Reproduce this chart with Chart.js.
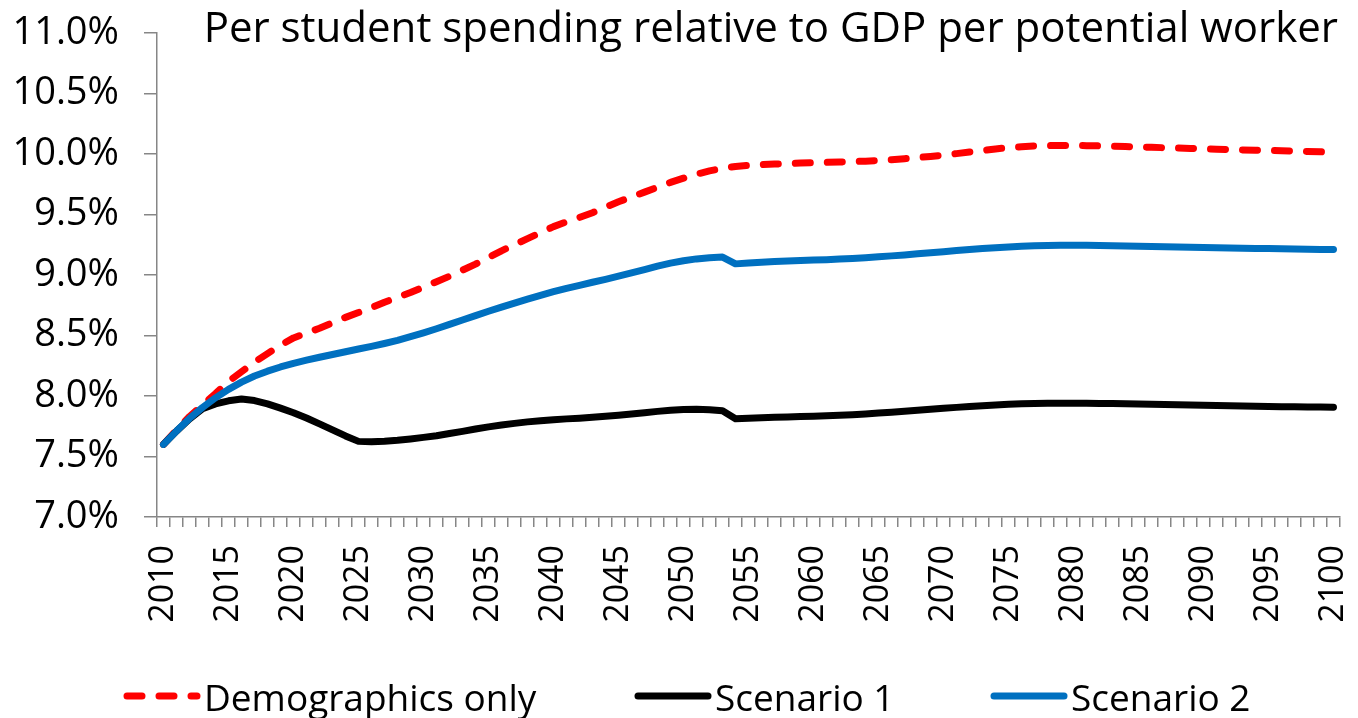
<!DOCTYPE html>
<html>
<head>
<meta charset="utf-8">
<script src="https://cdn.jsdelivr.net/npm/chart.js@4.4.0/dist/chart.umd.min.js"></script>
<style>
  html, body { margin: 0; padding: 0; background: #fff; }
  #wrap { position: relative; width: 1358px; height: 718px; }
  #legend { position: absolute; left: 0; top: 674px; width: 1358px; height: 44px;
            font-family: 'Open Sans', sans-serif; font-size: 37px; color: #000; }
  .item { position: absolute; top: 0; height: 44px; display: flex; align-items: center; white-space: nowrap; }
  .item svg { margin-right: 3px; }
</style>
</head>
<body>
<div id="wrap">
  <canvas id="chart" width="1358" height="718"></canvas>
  <div id="legend"></div>
</div>
<script>
const chartTitle = 'Per student spending relative to GDP per potential worker';

const years = [
  2010, 2011, 2012, 2013, 2014, 2015, 2016, 2017, 2018, 2019,
  2020, 2021, 2022, 2023, 2024, 2025, 2026, 2027, 2028, 2029,
  2030, 2031, 2032, 2033, 2034, 2035, 2036, 2037, 2038, 2039,
  2040, 2041, 2042, 2043, 2044, 2045, 2046, 2047, 2048, 2049,
  2050, 2051, 2052, 2053, 2054, 2055, 2056, 2057, 2058, 2059,
  2060, 2061, 2062, 2063, 2064, 2065, 2066, 2067, 2068, 2069,
  2070, 2071, 2072, 2073, 2074, 2075, 2076, 2077, 2078, 2079,
  2080, 2081, 2082, 2083, 2084, 2085, 2086, 2087, 2088, 2089,
  2090, 2091, 2092, 2093, 2094, 2095, 2096, 2097, 2098, 2099,
  2100
];

// years that get a label under the axis
const labelledYears = [2010, 2015, 2020, 2025, 2030, 2035, 2040, 2045, 2050, 2055,
  2060, 2065, 2070, 2075, 2080, 2085, 2090, 2095, 2100];

// % of GDP per potential worker, one value per year
const demographicsOnly = [
  7.600, 7.720, 7.830, 7.925, 8.020, 8.120, 8.200, 8.280, 8.350, 8.420,
  8.480, 8.520, 8.560, 8.605, 8.650, 8.690, 8.730, 8.775, 8.815, 8.855,
  8.900, 8.945, 8.990, 9.040, 9.090, 9.145, 9.200, 9.250, 9.300, 9.350,
  9.400, 9.440, 9.475, 9.515, 9.560, 9.605, 9.645, 9.685, 9.725, 9.765,
  9.800, 9.833, 9.860, 9.882, 9.897, 9.906, 9.912, 9.917, 9.921, 9.925,
  9.928, 9.931, 9.934, 9.937, 9.941, 9.946, 9.953, 9.961, 9.970, 9.980,
  9.991, 10.003, 10.016, 10.029, 10.042, 10.052, 10.060, 10.066, 10.069, 10.070,
  10.070, 10.069, 10.067, 10.064, 10.061, 10.058, 10.055, 10.052, 10.049, 10.046,
  10.043, 10.040, 10.037, 10.034, 10.032, 10.029, 10.027, 10.024, 10.021, 10.018,
  10.015
];

const scenario1 = [
  7.600, 7.710, 7.810, 7.895, 7.935, 7.960, 7.975, 7.962, 7.935, 7.900,
  7.862, 7.818, 7.770, 7.720, 7.670, 7.625, 7.622, 7.626, 7.634, 7.645,
  7.658, 7.672, 7.690, 7.708, 7.727, 7.745, 7.760, 7.774, 7.786, 7.796,
  7.804, 7.811, 7.817, 7.824, 7.832, 7.841, 7.851, 7.862, 7.873, 7.883,
  7.889, 7.891, 7.887, 7.878, 7.812, 7.817, 7.821, 7.824, 7.827, 7.830,
  7.833, 7.837, 7.841, 7.846, 7.852, 7.859, 7.866, 7.874, 7.882, 7.890,
  7.898, 7.906, 7.913, 7.920, 7.926, 7.931, 7.935, 7.938, 7.940, 7.941,
  7.941, 7.940, 7.939, 7.937, 7.935, 7.933, 7.931, 7.929, 7.927, 7.925,
  7.923, 7.921, 7.919, 7.917, 7.915, 7.913, 7.912, 7.911, 7.910, 7.909,
  7.908
];

const scenario2 = [
  7.600, 7.710, 7.815, 7.905, 7.985, 8.055, 8.115, 8.165, 8.205, 8.240,
  8.270, 8.296, 8.320, 8.343, 8.366, 8.388, 8.410, 8.434, 8.460, 8.490,
  8.522, 8.556, 8.592, 8.628, 8.664, 8.700, 8.735, 8.768, 8.800, 8.832,
  8.862, 8.890, 8.915, 8.940, 8.964, 8.990, 9.017, 9.045, 9.073, 9.098,
  9.118, 9.133, 9.143, 9.148, 9.092, 9.100, 9.106, 9.111, 9.115, 9.119,
  9.123, 9.127, 9.132, 9.137, 9.143, 9.150, 9.158, 9.166, 9.175, 9.184,
  9.193, 9.202, 9.211, 9.219, 9.226, 9.232, 9.237, 9.241, 9.244, 9.246,
  9.246, 9.245, 9.244, 9.242, 9.240, 9.238, 9.236, 9.234, 9.232, 9.230,
  9.228, 9.226, 9.224, 9.222, 9.220, 9.218, 9.216, 9.214, 9.212, 9.211,
  9.210
];

const seriesNames = ['Demographics only', 'Scenario 1', 'Scenario 2'];
const seriesColors = ['#ff0000', '#000000', '#0070c0'];

const axisGrey = '#868686';
const FONT = "'Open Sans', sans-serif";

Chart.defaults.font.family = FONT;
Chart.defaults.font.size = 36;
Chart.defaults.color = '#000';

// plot box in the original: left 157, right 1340, top 33, bottom 517
const PAD = { left: 0, right: 18, top: 33, bottom: 95 };
const Y_AXIS_W = 157;
const X_AXIS_H = 106;

// title sits inside the plot, top right
const insideTitle = {
  id: 'insideTitle',
  afterDraw(chart) {
    const { ctx, chartArea } = chart;
    ctx.save();
    ctx.font = '42px ' + FONT;
    ctx.fillStyle = '#000';
    ctx.textAlign = 'right';
    ctx.textBaseline = 'alphabetic';
    ctx.fillText(chartTitle, chartArea.right - 2, 42);
    ctx.restore();
  },
};

const lineStyle = {
  borderWidth: 7,
  pointRadius: 0,
  pointHoverRadius: 0,
  fill: false,
  tension: 0,
  borderCapStyle: 'round',
  borderJoinStyle: 'round',
};

const data = {
  labels: years,
  datasets: [
    {
      ...lineStyle,
      label: seriesNames[0],
      data: demographicsOnly,
      borderColor: seriesColors[0],
      backgroundColor: seriesColors[0],
      borderDash: [15, 17],
      order: 3,
    },
    {
      ...lineStyle,
      label: seriesNames[1],
      data: scenario1,
      borderColor: seriesColors[1],
      backgroundColor: seriesColors[1],
      order: 2,
    },
    {
      ...lineStyle,
      label: seriesNames[2],
      data: scenario2,
      borderColor: seriesColors[2],
      backgroundColor: seriesColors[2],
      order: 1,
    },
  ],
};

const options = {
  responsive: false,
  animation: false,
  layout: { padding: PAD },
  plugins: {
    legend: { display: false },
    title: { display: false },
    tooltip: { enabled: false },
  },
  scales: {
    x: {
      type: 'category',
      offset: true,
      grid: {
        offset: true,
        drawOnChartArea: false,
        drawTicks: true,
        tickLength: 10,
        color: axisGrey,
        lineWidth: 1.5,
      },
      border: { display: true, color: axisGrey, width: 1.5 },
      ticks: {
        autoSkip: false,
        maxRotation: 90,
        minRotation: 90,
        padding: 18,
        font: { size: 34 },
        callback(value, index) {
          const y = years[index];
          return labelledYears.includes(y) ? String(y) : '';
        },
      },
      afterFit(scale) {
        scale.height = X_AXIS_H;
        scale.paddingLeft = 0;
        scale.paddingRight = 0;
      },
    },
    y: {
      min: 7,
      max: 11,
      grid: {
        drawOnChartArea: false,
        drawTicks: true,
        tickLength: 13,
        color: axisGrey,
        lineWidth: 1.5,
      },
      border: { display: true, color: axisGrey, width: 1.5 },
      ticks: {
        stepSize: 0.5,
        padding: 25,
        font: { size: 38 },
        callback: v => v.toFixed(1) + '%',
      },
      afterFit(scale) {
        scale.width = Y_AXIS_W;
        scale.paddingTop = 0;
        scale.paddingBottom = 0;
      },
    },
  },
};

new Chart(document.getElementById('chart').getContext('2d'), {
  type: 'line',
  data,
  options,
  plugins: [insideTitle],
});

// legend drawn as html so the spacing matches the original
const legendLeft = [123, 634, 990];
const legend = document.getElementById('legend');
seriesNames.forEach((name, i) => {
  const item = document.createElement('div');
  item.className = 'item';
  item.style.left = legendLeft[i] + 'px';
  const dash = i === 0 ? 'stroke-dasharray="15 17"' : '';
  item.innerHTML =
    '<svg width="78" height="12"><line x1="4" y1="6" x2="74" y2="6" stroke="' + seriesColors[i] +
    '" stroke-width="7" stroke-linecap="round" ' + dash + '/></svg>' +
    '<span>' + name + '</span>';
  legend.appendChild(item);
});
</script>
</body>
</html>
